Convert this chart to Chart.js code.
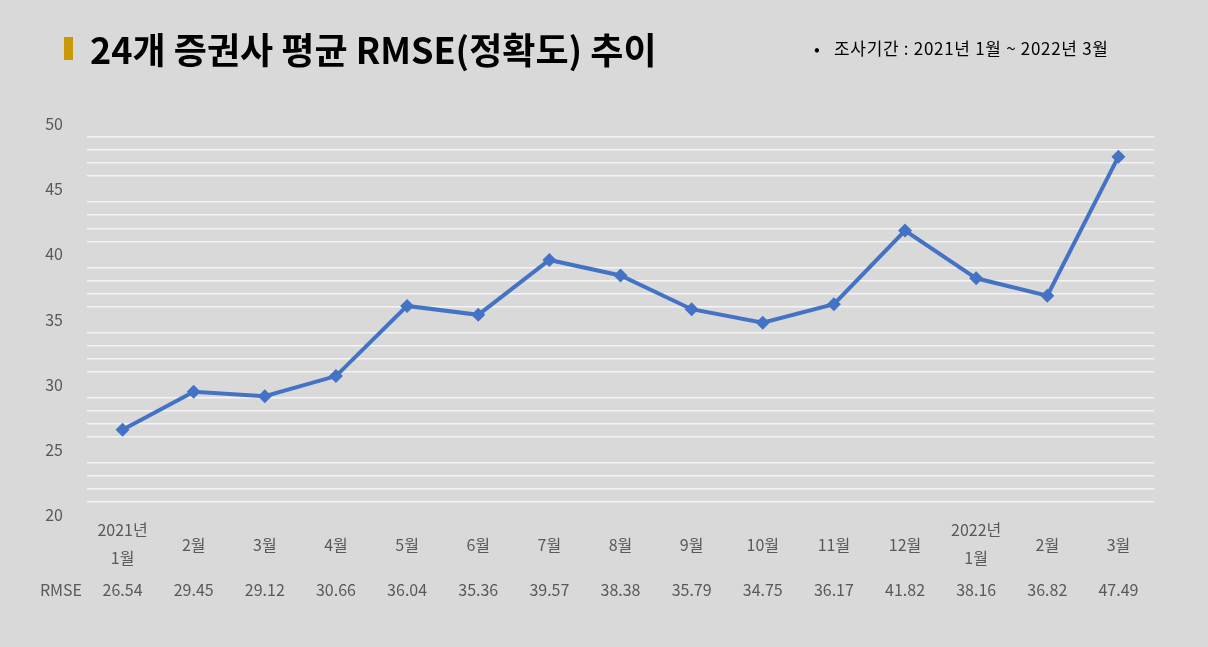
<!DOCTYPE html>
<html>
<head>
<meta charset="utf-8">
<script src="https://cdn.jsdelivr.net/npm/chart.js@4.4.1/dist/chart.umd.min.js"></script>
<style>
  html, body { margin: 0; padding: 0; background: #d9d9d9; }
  #wrap { position: relative; width: 1208px; height: 647px; overflow: hidden; }
  #title { position: absolute; left: 64px; top: 22px; font: bold 36px "Noto Sans CJK KR", sans-serif; color: #000; white-space: nowrap; }
  #title .mark { display: inline-block; width: 9px; height: 23px; background: #c99a06; margin-right: 17px; vertical-align: 4px; }
  #note { position: absolute; left: 814px; top: 35px; font: 17px "Noto Sans CJK KR", sans-serif; letter-spacing: 0.7px; color: #000; white-space: nowrap; }
  canvas { position: absolute; left: 0; top: 0; }
</style>
</head>
<body>
<div id="wrap">
  <canvas id="chart" width="1208" height="647"></canvas>
  <div id="title"><span class="mark"></span>24개 증권사 평균 RMSE(정확도) 추이</div>
  <div id="note">•&nbsp;&nbsp;&nbsp;조사기간 : 2021년 1월 ~ 2022년 3월</div>
</div>
<script>
const monthLabel = [["2021년", "1월"], "2월", "3월", "4월", "5월", "6월", "7월", "8월", "9월", "10월", "11월", "12월", ["2022년", "1월"], "2월", "3월"];
const rmse = [26.54, 29.45, 29.12, 30.66, 36.04, 35.36, 39.57, 38.38, 35.79, 34.75, 36.17, 41.82, 38.16, 36.82, 47.49];
const seriesName = "RMSE";
const yTicks = [];
for (let v = 20; v <= 50; v++) yTicks.push(v);

const labelFont = '16px "Noto Sans CJK KR", sans-serif';
const labelColor = "#595959";

// category labels + data table under the plot
const tablePlugin = {
  id: "table",
  afterDraw(chart) {
    const ctx = chart.ctx;
    const x = chart.scales.x;
    ctx.save();
    ctx.font = labelFont;
    ctx.fillStyle = labelColor;
    ctx.textAlign = "center";
    ctx.textBaseline = "middle";
    monthLabel.forEach((lab, i) => {
      const px = x.getPixelForTick(i);
      if (Array.isArray(lab)) {
        ctx.fillText(lab[0], px, 530);
        ctx.fillText(lab[1], px, 558);
      } else {
        ctx.fillText(lab, px, 545);
      }
      ctx.fillText(rmse[i].toFixed(2), px, 590);
    });
    ctx.textAlign = "right";
    ctx.fillText(seriesName, 82, 590);
    ctx.restore();
  },
};

new Chart(document.getElementById("chart"), {
  type: "line",
  data: {
    labels: monthLabel,
    datasets: [
      {
        label: seriesName,
        data: rmse,
        borderColor: "#4472c4",
        backgroundColor: "#4472c4",
        borderWidth: 4,
        pointStyle: "rectRot",
        pointRadius: 7,
        pointBorderWidth: 0,
        tension: 0,
      },
    ],
  },
  options: {
    responsive: false,
    animation: false,
    layout: { padding: { top: 124, right: 54, bottom: 132, left: 0 } },
    plugins: { legend: { display: false }, tooltip: { enabled: false } },
    scales: {
      x: {
        offset: true,
        grid: { display: false },
        border: { display: false },
        ticks: { display: false },
        afterFit: (s) => { s.height = 0; },
      },
      y: {
        min: 20,
        max: 50,
        border: { display: false },
        afterBuildTicks: (s) => { s.ticks = yTicks.map((v) => ({ value: v })); },
        afterFit: (s) => { s.width = 87; },
        grid: {
          drawTicks: false,
          lineWidth: 1.5,
          color: (c) => (c.tick && c.tick.value % 5 === 0 ? "rgba(0,0,0,0)" : "#f4f4f4"),
        },
        ticks: {
          autoSkip: false,
          padding: 24,
          color: labelColor,
          font: { family: '"Noto Sans CJK KR", sans-serif', size: 16 },
          callback: (v) => (v % 5 === 0 ? v : ""),
        },
      },
    },
  },
  plugins: [tablePlugin],
});
</script>
</body>
</html>
